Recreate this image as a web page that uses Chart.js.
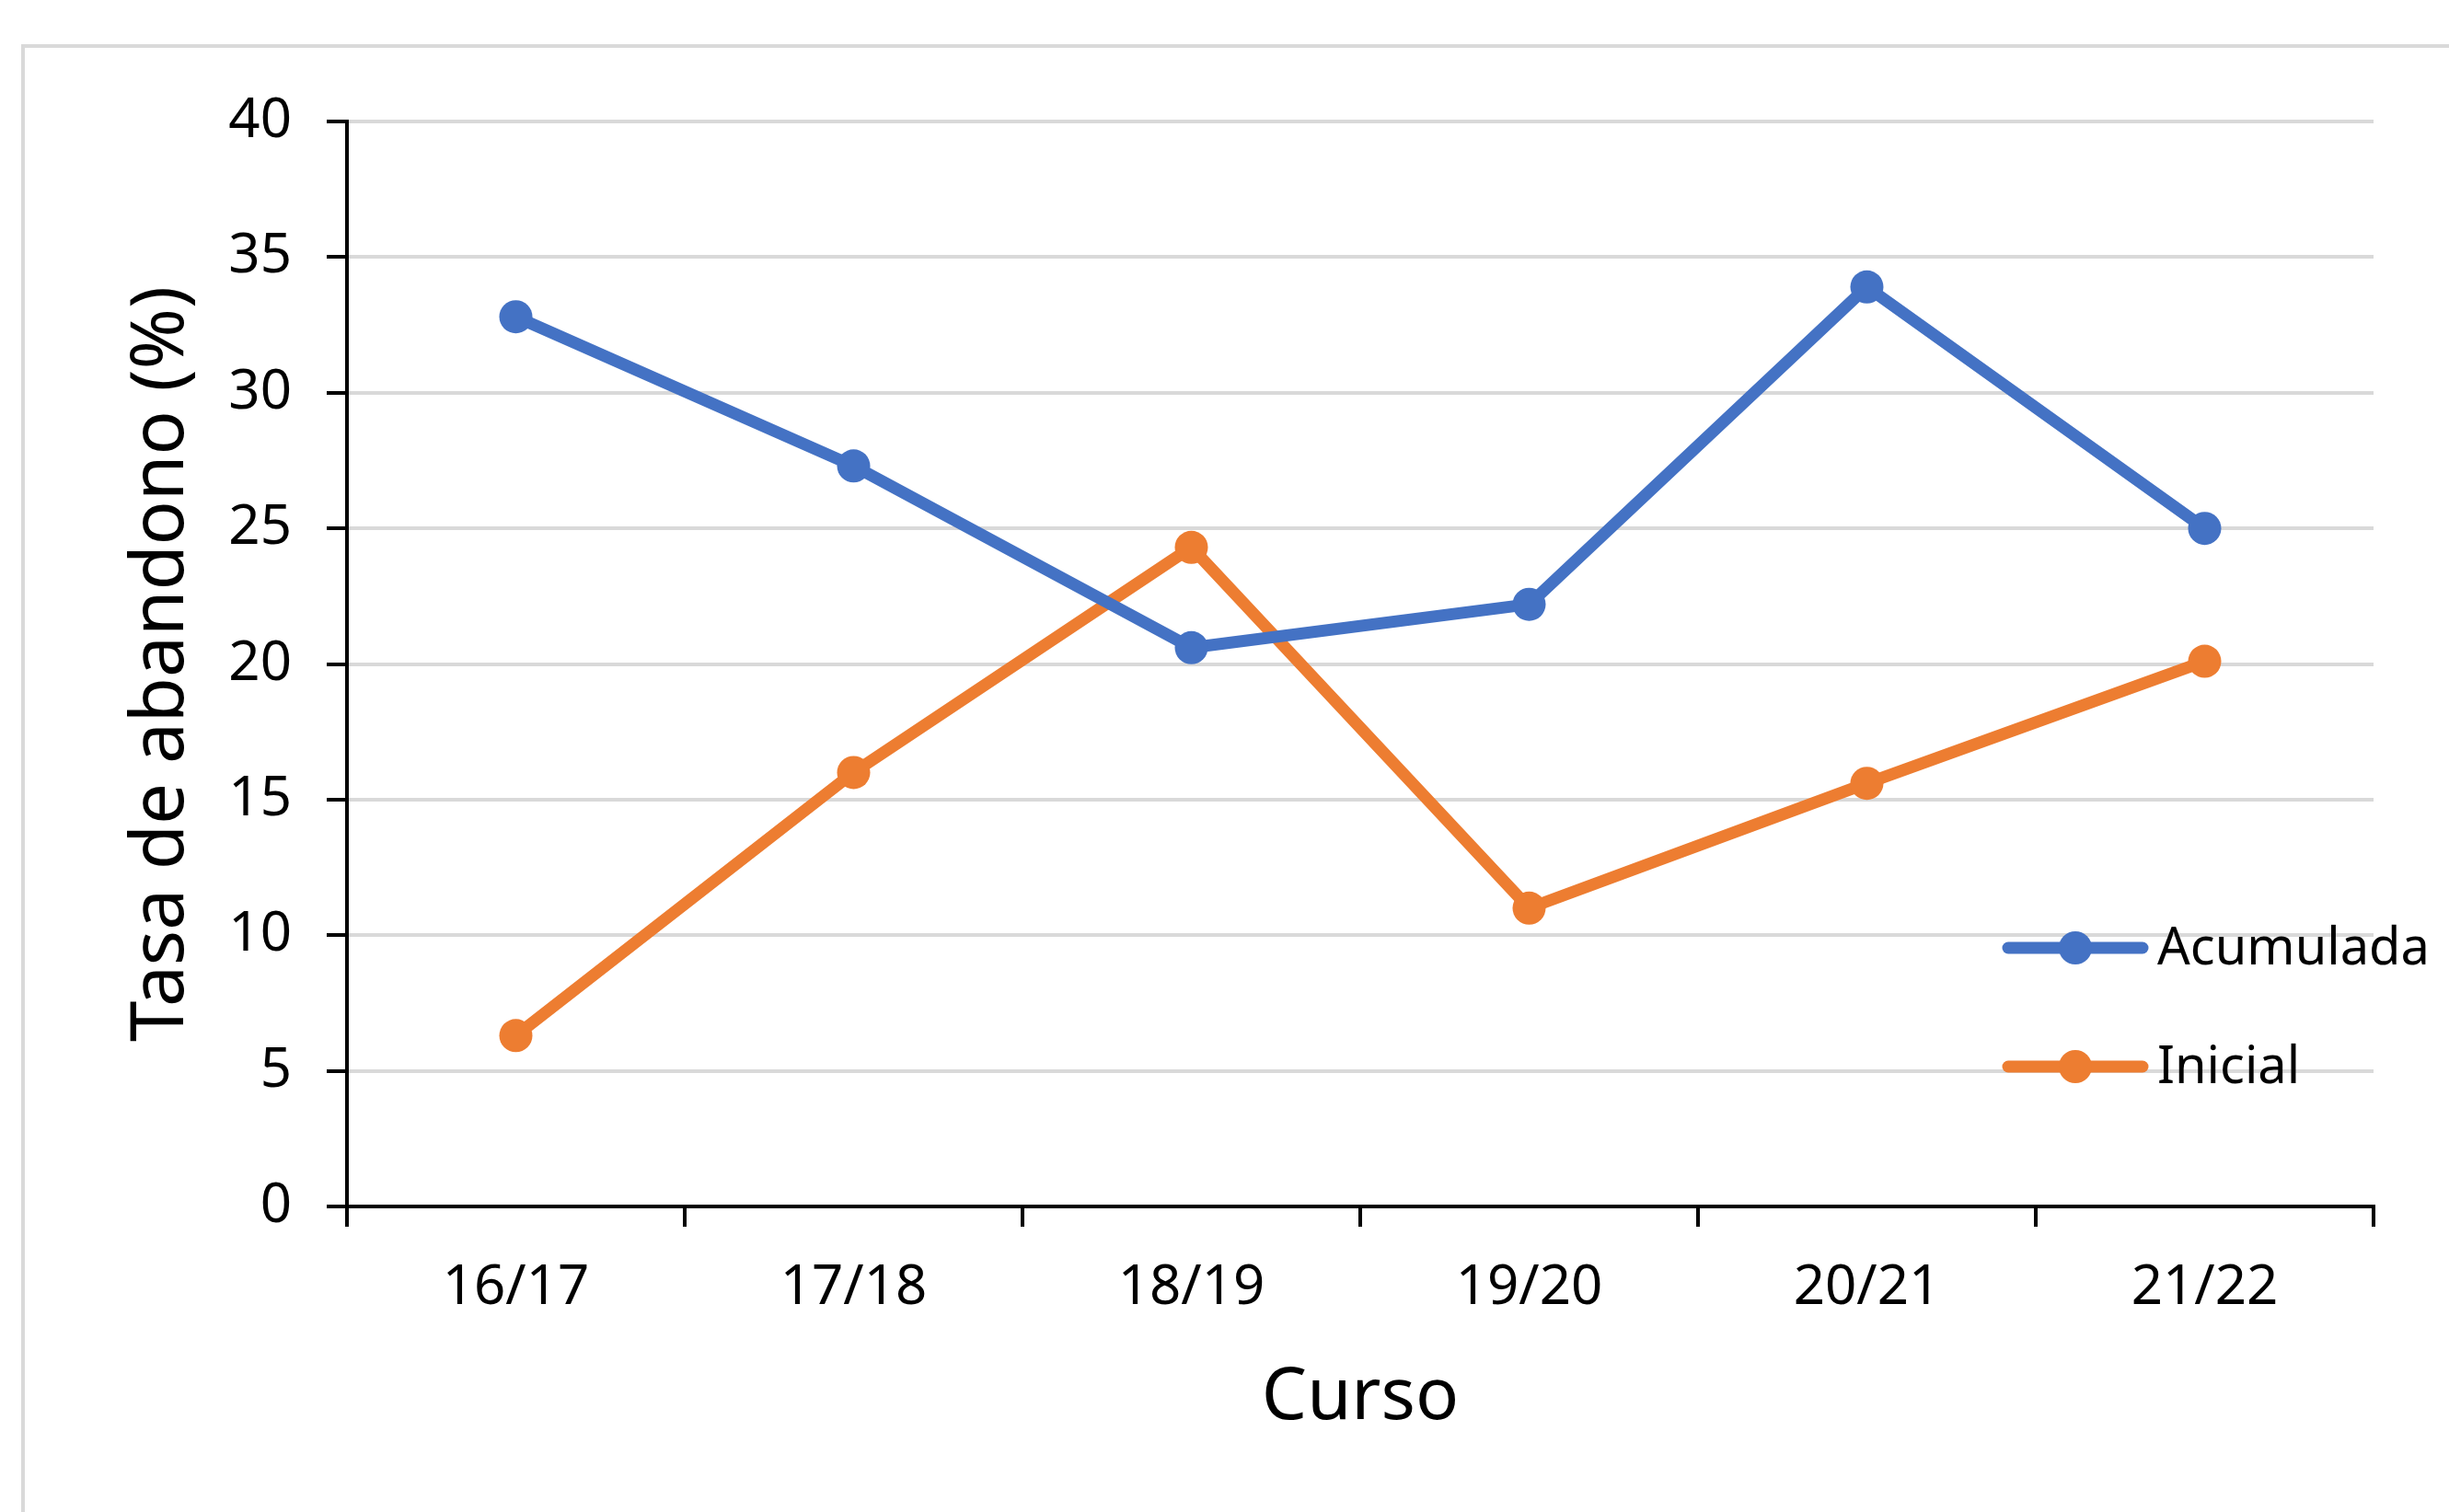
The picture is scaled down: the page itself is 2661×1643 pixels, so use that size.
<!DOCTYPE html>
<html>
<head>
<meta charset="utf-8">
<script src="https://cdn.jsdelivr.net/npm/chart.js@4/dist/chart.umd.min.js"></script>
<style>
  html, body { margin: 0; padding: 0; background: #fff; overflow: hidden; }
  #wrap { position: relative; width: 2661px; height: 1643px; }
  #frame { position: absolute; left: 23px; top: 48px; width: 3000px; height: 3000px;
           border-left: 4px solid #d9d9d9; border-top: 4px solid #d9d9d9; }
  #chart { position: absolute; left: 0; top: 0; }
</style>
</head>
<body>
<div id="wrap">
  <div id="frame"></div>
  <canvas id="chart" width="2661" height="1643"></canvas>
</div>
<script>
"use strict"

// data
const cursos = ["16/17", "17/18", "18/19", "19/20", "20/21", "21/22"]
const acumulada = [32.8, 27.3, 20.6, 22.2, 33.9, 25.0]
const inicial = [6.3, 16.0, 24.3, 11.0, 15.6, 20.1]
const yTicks = [0, 5, 10, 15, 20, 25, 30, 35, 40]

const FONT = "'Noto Sans', sans-serif"
const BLUE = "#4472C4"
const ORANGE = "#ED7D31"

// legend drawn inside the plot area, lower right (like the Excel one)
const insideLegend = {
    id: "insideLegend",
    afterDraw(chart) {
        const ctx = chart.ctx
        const area = chart.chartArea
        const x0 = area.right - 401
        const rows = [area.top + 898, area.top + 1027]
        ctx.save()
        chart.data.datasets.forEach((ds, i) => {
            const y = rows[i]
            ctx.strokeStyle = ds.borderColor
            ctx.lineWidth = 13
            ctx.lineCap = "round"
            ctx.beginPath()
            ctx.moveTo(x0 + 4, y)
            ctx.lineTo(x0 + 150, y)
            ctx.stroke()
            ctx.fillStyle = ds.borderColor
            ctx.beginPath()
            ctx.arc(x0 + 77, y, 18, 0, Math.PI * 2)
            ctx.fill()
            ctx.fillStyle = "#000"
            ctx.font = "56px " + FONT
            ctx.textBaseline = "middle"
            ctx.fillText(ds.label, x0 + 166, y + 2)
        })
        ctx.restore()
    }
}

const lineStyle = (color) => ({
    borderColor: color,
    backgroundColor: color,
    borderWidth: 13,
    borderJoinStyle: "round",
    pointRadius: 18,
    pointHoverRadius: 18,
    pointBorderWidth: 0,
    pointBackgroundColor: color,
    tension: 0
})

new Chart(document.getElementById("chart"), {
    type: "line",
    data: {
        labels: cursos,
        datasets: [
            Object.assign({label: "Acumulada", data: acumulada}, lineStyle(BLUE)),
            Object.assign({label: "Inicial", data: inicial}, lineStyle(ORANGE))
        ]
    },
    options: {
        responsive: false,
        animation: false,
        layout: {padding: {top: 132, right: 82, left: 0, bottom: 0}},
        plugins: {legend: {display: false}, tooltip: {enabled: false}},
        scales: {
            x: {
                offset: true,
                afterFit: (s) => { s.height = 332 },
                grid: {offset: true, drawOnChartArea: false, color: "#000", tickColor: "#000", lineWidth: 4, tickLength: 22},
                border: {color: "#000", width: 4},
                ticks: {color: "#000", padding: 31, font: {family: FONT, size: 60}},
                title: {display: true, text: "Curso", color: "#000", padding: {top: 0, bottom: 76},
                        font: {family: FONT, size: 78}}
            },
            y: {
                min: 0,
                max: 40,
                afterFit: (s) => { s.width = 377 },
                afterBuildTicks: (s) => { s.ticks = yTicks.map(v => ({value: v})) },
                grid: {color: "#d9d9d9", tickColor: "#000", lineWidth: 4, tickLength: 22},
                border: {color: "#000", width: 4},
                ticks: {color: "#000", padding: 38, font: {family: FONT, size: 60}},
                title: {display: true, text: "Tasa de abandono (%)", color: "#000", padding: {top: 128, bottom: 0},
                        font: {family: FONT, size: 80}}
            }
        }
    },
    plugins: [insideLegend]
})
</script>
</body>
</html>
